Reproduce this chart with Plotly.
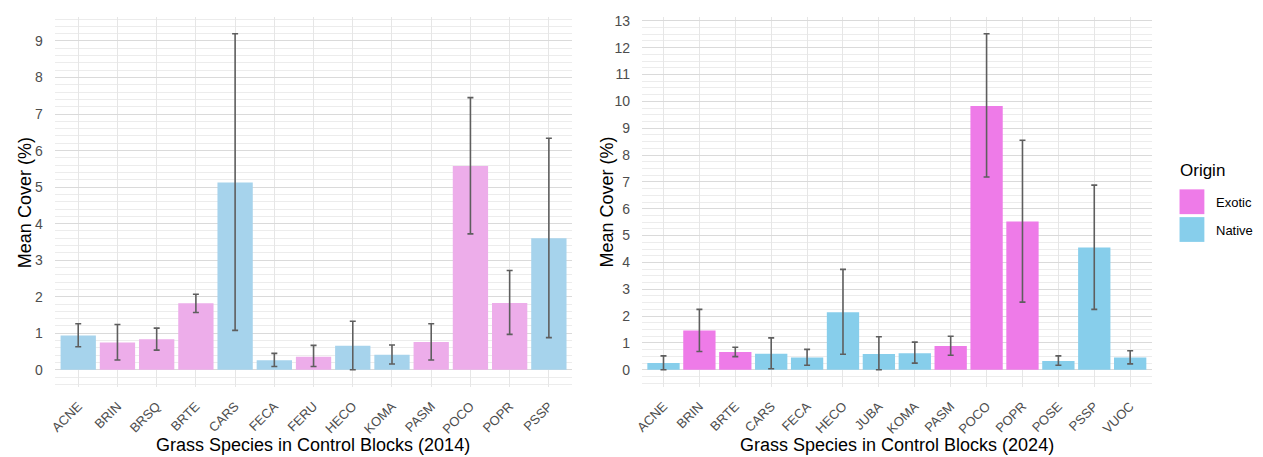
import plotly.graph_objects as go

# Mean grass cover per species in control blocks, with error-bar bounds
species_2014 = ["ACNE", "BRIN", "BRSQ", "BRTE", "CARS", "FECA", "FERU",
                "HECO", "KOMA", "PASM", "POCO", "POPR", "PSSP"]
origin_2014 = ["Native", "Exotic", "Exotic", "Exotic", "Native", "Native", "Exotic",
               "Native", "Native", "Exotic", "Exotic", "Exotic", "Native"]
mean_2014 = [0.94, 0.75, 0.84, 1.82, 5.13, 0.26, 0.36, 0.66, 0.41, 0.76, 5.58, 1.83, 3.60]
low_2014 = [0.63, 0.27, 0.54, 1.57, 1.08, 0.09, 0.09, 0.00, 0.16, 0.27, 3.72, 0.97, 0.88]
high_2014 = [1.26, 1.24, 1.14, 2.07, 9.20, 0.45, 0.67, 1.33, 0.68, 1.26, 7.45, 2.72, 6.34]

species_2024 = ["ACNE", "BRIN", "BRTE", "CARS", "FECA", "HECO", "JUBA",
                "KOMA", "PASM", "POCO", "POPR", "POSE", "PSSP", "VUOC"]
origin_2024 = ["Native", "Exotic", "Exotic", "Native", "Native", "Native", "Native",
               "Native", "Exotic", "Exotic", "Exotic", "Native", "Native", "Native"]
mean_2024 = [0.25, 1.46, 0.66, 0.60, 0.46, 2.14, 0.59, 0.62, 0.89, 9.83, 5.52, 0.33, 4.56, 0.46]
low_2024 = [0.00, 0.68, 0.49, 0.04, 0.17, 0.58, 0.00, 0.25, 0.54, 7.18, 2.52, 0.17, 2.25, 0.22]
high_2024 = [0.52, 2.25, 0.84, 1.19, 0.76, 3.74, 1.23, 1.03, 1.25, 12.52, 8.55, 0.52, 6.88, 0.71]

y_ticks_2014 = list(range(0, 10))
y_ticks_2024 = list(range(0, 14))

FONT = "Liberation Sans, Arial, Helvetica, sans-serif"
PALE = {"Exotic": "#EDADEA", "Native": "#A6D3EC"}
BOLD = {"Exotic": "#EE7BE8", "Native": "#87CEEB"}
W, H = 1263, 457


def padded_range(low, high):
    lo = min(0.0, min(low))
    hi = max(high)
    pad = 0.05 * (hi - lo)
    return [lo - pad, hi + pad]


def bar_trace(cats, origin, mean, low, high, palette, xa, ya):
    return go.Bar(
        x=cats, y=mean, xaxis=xa, yaxis=ya,
        marker=dict(color=[palette[o] for o in origin], line=dict(width=0)),
        error_y=dict(
            type="data", symmetric=False,
            array=[h - m for h, m in zip(high, mean)],
            arrayminus=[m - l for m, l in zip(mean, low)],
            color="#5E5E5E", thickness=1.6, width=3,
        ),
        showlegend=False, hoverinfo="x+y",
    )


fig = go.Figure()
fig.add_trace(bar_trace(species_2014, origin_2014, mean_2014, low_2014, high_2014, PALE, "x", "y"))
fig.add_trace(bar_trace(species_2024, origin_2024, mean_2024, low_2024, high_2024, BOLD, "x2", "y2"))

px = lambda v: v / W
py = lambda v: 1 - v / H
y_dom = [py(386), py(13)]

common_x = dict(
    type="category", showgrid=True, gridcolor="#E6E6E6", gridwidth=1.2,
    tickangle=-45, ticks="outside", ticklen=6, tickcolor="rgba(0,0,0,0)",
    tickfont=dict(family=FONT, size=13, color="#4D4D4D"),
    showline=False, zeroline=False, fixedrange=True,
)
common_y = dict(
    showgrid=True, gridcolor="#DADADA", gridwidth=1.3,
    ticks="outside", ticklen=8, tickcolor="rgba(0,0,0,0)",
    tickfont=dict(family=FONT, size=14, color="#4D4D4D"),
    showline=False, zeroline=False, fixedrange=True,
)

fig.update_layout(
    width=W, height=H,
    margin=dict(l=0, r=0, t=0, b=0),
    paper_bgcolor="white", plot_bgcolor="white",
    bargap=0.1,
    font=dict(family=FONT),
    xaxis=dict(common_x, domain=[px(47), px(568)], range=[-0.6, len(species_2014) - 0.4],
               anchor="y"),
    yaxis=dict(common_y, domain=y_dom, range=padded_range(low_2014, high_2014),
               tickvals=y_ticks_2014, anchor="x",
               minor=dict(dtick=0.2, tick0=0, showgrid=True, gridcolor="#ECECEC", gridwidth=0.8)),
    xaxis2=dict(common_x, domain=[px(638), px(1151)], range=[-0.6, len(species_2024) - 0.4],
                anchor="y2"),
    yaxis2=dict(common_y, domain=y_dom, range=padded_range(low_2024, high_2024),
                tickvals=y_ticks_2024, anchor="x2",
                minor=dict(dtick=0.25, tick0=0, showgrid=True, gridcolor="#ECECEC", gridwidth=0.8)),
)

# Axis titles
title_font = dict(family=FONT, size=18, color="black")
for text, x, y, angle in [
    ("Grass Species in Control Blocks (2014)", 307, 445, 0),
    ("Grass Species in Control Blocks (2024)", 895, 445, 0),
    ("Mean Cover (%)", 17, 200, -90),
    ("Mean Cover (%)", 603, 200, -90),
]:
    fig.add_annotation(text=text, x=px(x), y=py(y), xref="paper", yref="paper",
                       showarrow=False, textangle=angle, font=title_font,
                       xanchor="center", yanchor="middle")

# Legend for origin
fig.add_annotation(text="Origin", x=px(1177), y=py(168), xref="paper", yref="paper",
                   showarrow=False, xanchor="left", yanchor="middle",
                   font=dict(family=FONT, size=17, color="black"))
for i, key in enumerate(["Exotic", "Native"]):
    top = 187 + i * 28
    fig.add_shape(type="rect", xref="paper", yref="paper",
                  x0=px(1179), x1=px(1204), y0=py(top + 25), y1=py(top),
                  fillcolor=BOLD[key], line=dict(width=0))
    fig.add_annotation(text=key, x=px(1214), y=py(top + 13.5), xref="paper", yref="paper",
                       showarrow=False, xanchor="left", yanchor="middle",
                       font=dict(family=FONT, size=13, color="black"))

fig.write_html("out.html")
